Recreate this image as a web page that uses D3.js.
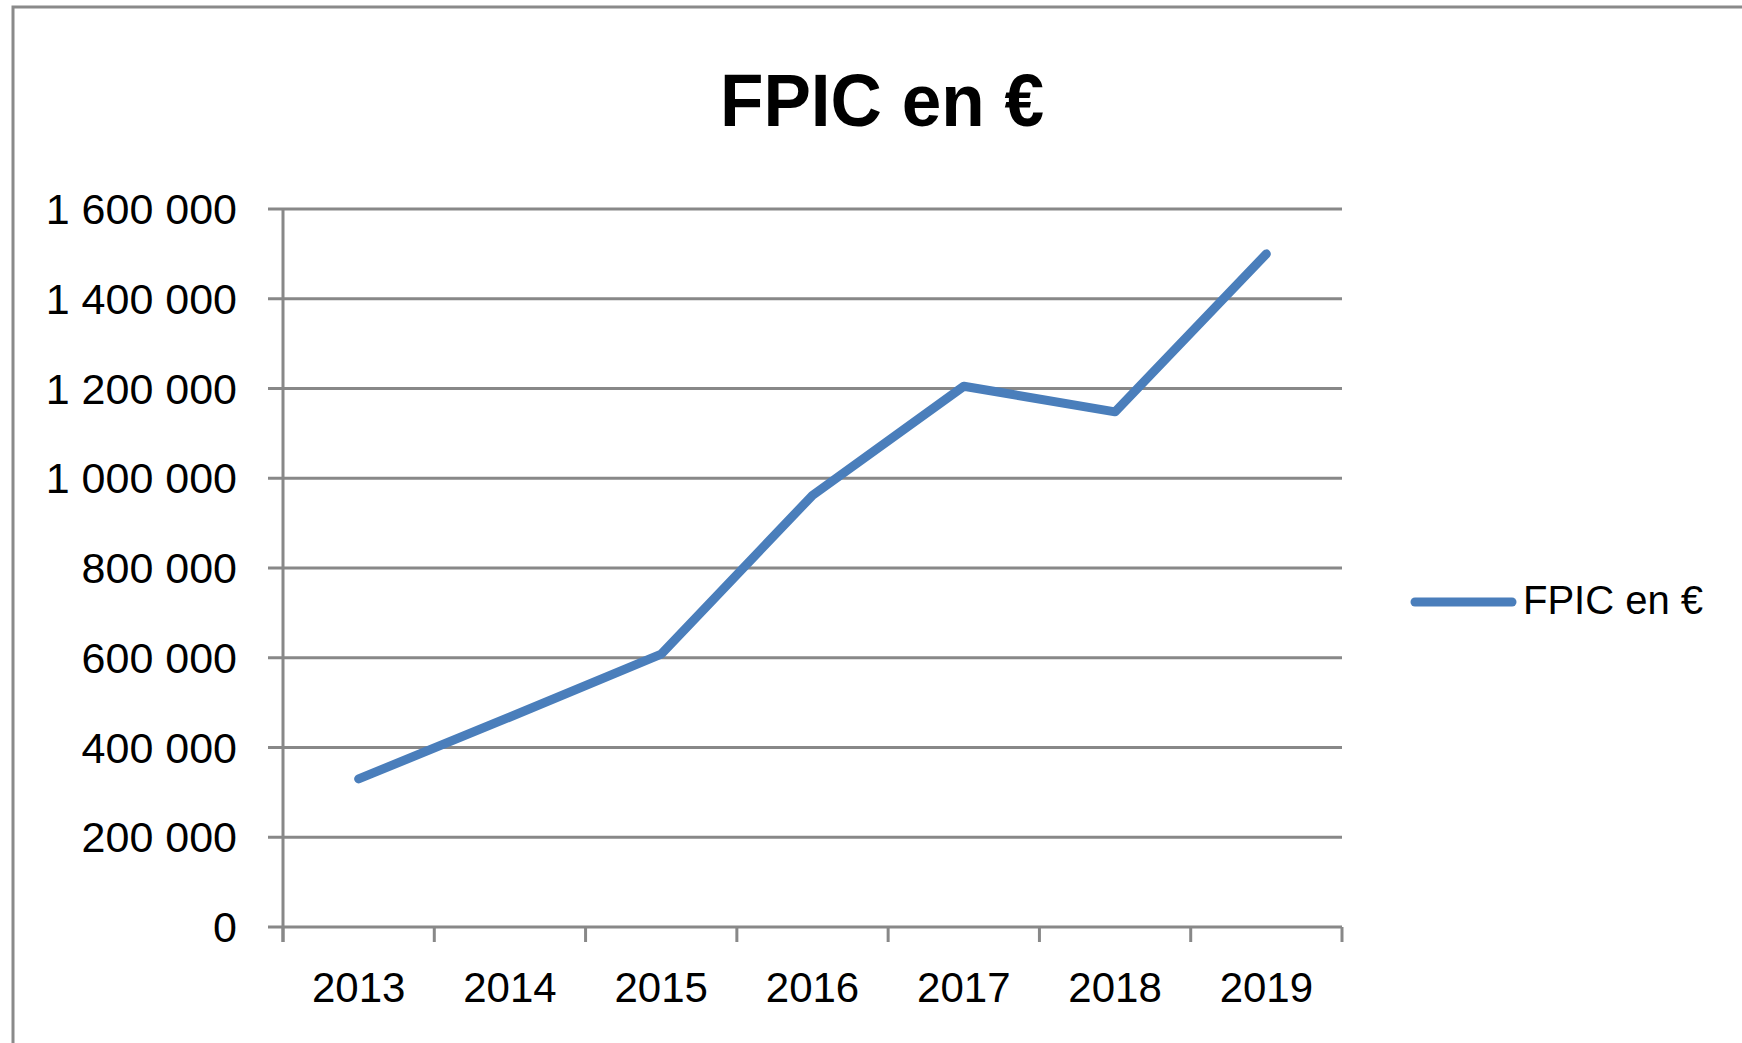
<!DOCTYPE html>
<html>
<head>
<meta charset="utf-8">
<script src="https://cdn.jsdelivr.net/npm/d3@7"></script>
<style>
  html, body { margin: 0; padding: 0; background: #fff; }
  svg { display: block; }
</style>
</head>
<body>
<script>
const title = "FPIC en €";
const seriesName = "FPIC en €";
const years = ["2013", "2014", "2015", "2016", "2017", "2018", "2019"];
const values = [330000, 468000, 608000, 962000, 1205000, 1148000, 1500000];
const yTicks = [0, 200000, 400000, 600000, 800000, 1000000, 1200000, 1400000, 1600000];

const W = 1742, H = 1043;
const svg = d3.select("body").append("svg").attr("width", W).attr("height", H);
svg.append("rect").attr("width", W).attr("height", H).attr("fill", "#fff");

// outer frame (top and left visible)
svg.append("rect").attr("x", 13).attr("y", 7).attr("width", W + 20).attr("height", H + 20)
  .attr("fill", "none").attr("stroke", "#8a8a8a").attr("stroke-width", 3);

const plot = { left: 283, right: 1342, top: 209, bottom: 927 };
const x = d3.scaleBand().domain(years).range([plot.left, plot.right]);
const y = d3.scaleLinear().domain([0, 1600000]).range([plot.bottom, plot.top]);

const loc = d3.formatLocale({ thousands: "\u00a0", grouping: [3], decimal: ",", currency: ["", " €"] });
const fmt = loc.format(",d");

const grid = "#888888";
const font = "'Liberation Sans', Arial, sans-serif";

// gridlines
svg.append("g").selectAll("line").data(yTicks).join("line")
  .attr("x1", plot.left - 15).attr("x2", plot.right)
  .attr("y1", d => y(d)).attr("y2", d => y(d))
  .attr("stroke", grid).attr("stroke-width", 3);

// y axis line
svg.append("line").attr("x1", plot.left).attr("x2", plot.left)
  .attr("y1", plot.top).attr("y2", plot.bottom + 15)
  .attr("stroke", grid).attr("stroke-width", 3);

// x ticks at band boundaries
const bounds = years.map(d => x(d)).concat([plot.right]);
svg.append("g").selectAll("line").data(bounds).join("line")
  .attr("x1", d => d).attr("x2", d => d)
  .attr("y1", plot.bottom).attr("y2", plot.bottom + 15)
  .attr("stroke", grid).attr("stroke-width", 3);

// y labels
svg.append("g").selectAll("text").data(yTicks).join("text")
  .attr("x", 237).attr("y", d => y(d) + 15)
  .attr("text-anchor", "end")
  .attr("font-family", font).attr("font-size", 43).attr("fill", "#000")
  .text(d => fmt(d));

// x labels
svg.append("g").selectAll("text").data(years).join("text")
  .attr("x", d => x(d) + x.bandwidth() / 2).attr("y", 1002)
  .attr("text-anchor", "middle")
  .attr("font-family", font).attr("font-size", 42).attr("fill", "#000")
  .text(d => d);

// series line
const color = "#4A7EBB";
const line = d3.line().x((d, i) => x(years[i]) + x.bandwidth() / 2).y(d => y(d));
svg.append("path").datum(values).attr("d", line)
  .attr("fill", "none").attr("stroke", color).attr("stroke-width", 9)
  .attr("stroke-linecap", "round").attr("stroke-linejoin", "round");

// title
svg.append("text").attr("x", 882).attr("y", 126).attr("text-anchor", "middle")
  .attr("font-family", font).attr("font-weight", "bold").attr("font-size", 74)
  .attr("textLength", 324).attr("lengthAdjust", "spacingAndGlyphs")
  .attr("fill", "#000").text(title);

// legend
svg.append("line").attr("x1", 1415).attr("x2", 1512).attr("y1", 602).attr("y2", 602)
  .attr("stroke", color).attr("stroke-width", 9).attr("stroke-linecap", "round");
svg.append("text").attr("x", 1523).attr("y", 614)
  .attr("font-family", font).attr("font-size", 40).attr("fill", "#000").text(seriesName);
</script>
</body>
</html>
